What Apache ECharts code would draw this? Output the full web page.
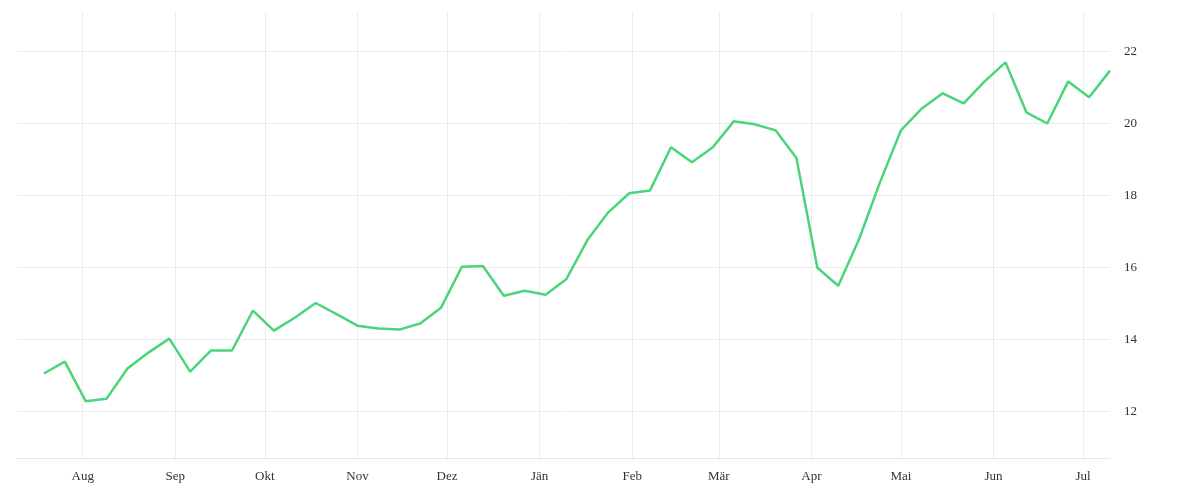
<!DOCTYPE html>
<html><head><meta charset="utf-8">
<script src="https://cdn.jsdelivr.net/npm/echarts@6/dist/echarts.min.js"></script>
<style>html,body{margin:0;padding:0;background:#fff}#c{width:1200px;height:500px}</style>
</head><body><div id="c"></div>
<script>
const startDate = '2023-07-19';
const values = [13.05,13.38,12.28,12.35,13.19,13.63,14.02,13.1,13.69,13.69,14.8,14.24,14.6,15.01,14.7,14.38,14.3,14.27,14.44,14.88,16.02,16.04,15.21,15.35,15.24,15.68,16.76,17.53,18.06,18.14,19.34,18.92,19.34,20.06,19.98,19.81,19.04,15.99,15.49,16.79,18.37,19.81,20.42,20.84,20.56,21.17,21.70,20.31,20.0,21.17,20.73,21.47];
const monthNames = ['Jän','Feb','Mär','Apr','Mai','Jun','Jul','Aug','Sep','Okt','Nov','Dez'];
const monthTicks = ['2023-08-01','2023-09-01','2023-10-01','2023-11-01','2023-12-01','2024-01-01','2024-02-01','2024-03-01','2024-04-01','2024-05-01','2024-06-01','2024-07-01'];
const yTicks = [12,14,16,18,20,22];

const DAY = 86400000;
const t0 = Date.parse(startDate + 'T00:00:00Z');
const data = values.map((v,i)=>[t0 + i*7*DAY, v]);
const mt = monthTicks.map(d=>Date.parse(d+'T00:00:00Z'));
const gridLines = mt.map(t=>({xAxis:t})).concat(yTicks.map(v=>({yAxis:v})));
const chart = echarts.init(document.getElementById('c'));
chart.setOption({
  animation:false,
  grid:{left:17,right:90,top:12,bottom:42},
  xAxis:{type:'value',min:t0-9*DAY,max:t0+51*7*DAY,
    axisLine:{show:true,lineStyle:{color:'#e6e6e6'}},
    axisTick:{show:false,customValues:mt},
    splitLine:{show:false},
    axisLabel:{customValues:mt,color:'#333',fontFamily:'Liberation Serif',fontSize:13,margin:12,
      formatter:v=>monthNames[new Date(v).getUTCMonth()]}},
  yAxis:{type:'value',position:'right',min:10.7,max:23.1,
    axisLine:{show:false},
    axisTick:{show:false,customValues:yTicks},
    splitLine:{show:false},
    axisLabel:{customValues:yTicks,color:'#333',fontFamily:'Liberation Serif',fontSize:13,margin:14}},
  series:[{type:'line',data:data,showSymbol:false,lineStyle:{color:'#4cd47c',width:2.5},itemStyle:{color:'#4cd47c'},
    markLine:{silent:true,symbol:'none',label:{show:false},lineStyle:{color:'#ececec',type:'solid',width:1},data:gridLines,z:-1}}]
});
</script></body></html>
